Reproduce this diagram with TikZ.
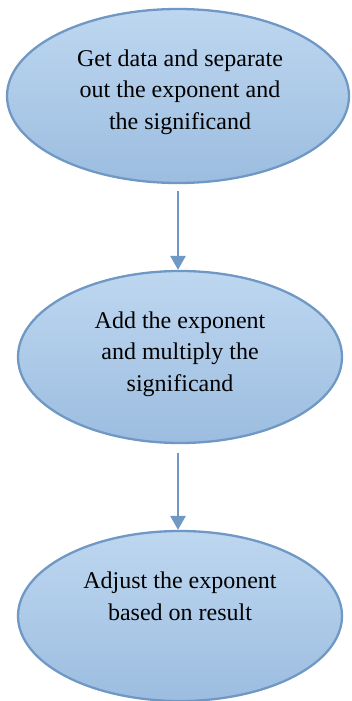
\documentclass[tikz,border=0pt]{standalone}
\usepackage{fontspec}
\setmainfont{Liberation Serif}
\usetikzlibrary{shapes.geometric,arrows.meta}
\definecolor{edgeblue}{RGB}{112,152,197}
\definecolor{topblue}{RGB}{190,215,240}
\definecolor{botblue}{RGB}{156,189,224}
\tikzset{
  oval/.style={ellipse, draw=edgeblue, line width=2.3pt, top color=topblue, bottom color=botblue, inner sep=0pt},
  lbl/.style={align=center, font=\fontsize{24}{31.5}\selectfont, inner sep=0pt, anchor=base},
  flow/.style={draw=edgeblue, line width=2.8pt, -{Triangle[width=15pt,length=14pt]}}
}
\begin{document}
\begin{tikzpicture}[x=1pt,y=1pt]
\useasboundingbox (0,0) rectangle (351,-701);
\node[oval, minimum width=342pt, minimum height=174pt] (e1) at (178,-96) {};
\node[oval, minimum width=324pt, minimum height=172pt] (e2) at (180,-357) {};
\node[oval, minimum width=324pt, minimum height=170pt] (e3) at (180,-616) {};
\node[lbl] (t1) at (180,-129) {Get data and separate\\out the exponent and\\the significand};
\node[lbl] (t2) at (180,-391) {Add the exponent\\and multiply the\\significand};
\node[lbl] (t3) at (180,-620) {Adjust the exponent\\based on result};
\draw[flow, shorten <=7pt] (e1.south -| 178,0) -- (178,0 |- e2.north);
\draw[flow, shorten <=9pt] (e2.south -| 178,0) -- (178,0 |- e3.north);
\end{tikzpicture}
\end{document}
